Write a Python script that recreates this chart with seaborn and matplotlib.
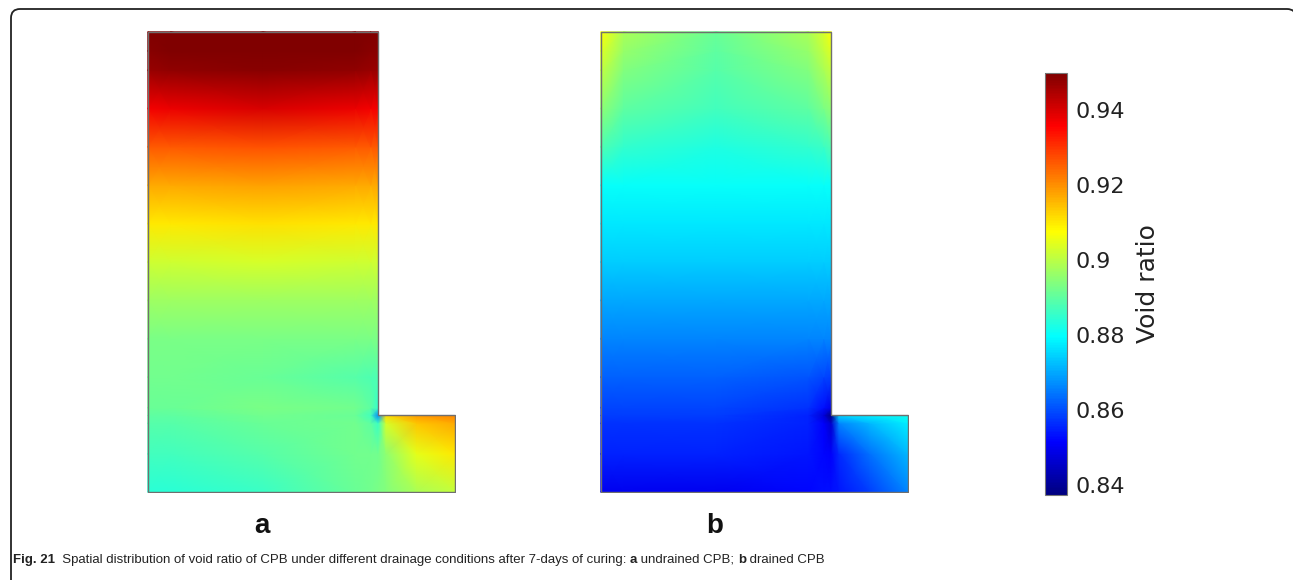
import numpy as np
import seaborn as sns
import matplotlib
matplotlib.use("Agg")
import matplotlib.pyplot as plt
from matplotlib import font_manager
from matplotlib.patches import Polygon, PathPatch
from matplotlib.path import Path
from matplotlib.cm import ScalarMappable
from matplotlib.colors import Normalize, LinearSegmentedColormap

# ---- data (void ratio at mesh nodes) ----
# column part of the L (x 0..6, y 0..12), foot part (x 6..8, y 0..2)
col_x = [0, 0.6, 3, 5.4, 5.8, 6]
col_y = [0, 1, 1.8, 2, 2.2, 3, 4, 5, 6, 7, 8, 9, 10, 11, 11.5, 12]
foot_x = [6, 6.2, 7, 8]
foot_y = [0, 1, 1.8, 2]

# (a) undrained CPB
col_a = [
    [0.884, 0.884, 0.886, 0.891, 0.892, 0.893],
    [0.887, 0.887, 0.889, 0.892, 0.892, 0.892],
    [0.889, 0.889, 0.891, 0.892, 0.890, 0.886],
    [0.890, 0.890, 0.892, 0.891, 0.887, 0.866],
    [0.891, 0.891, 0.893, 0.892, 0.890, 0.885],
    [0.892, 0.892, 0.891, 0.889, 0.888, 0.888],
    [0.893, 0.893, 0.893, 0.893, 0.893, 0.893],
    [0.897, 0.897, 0.897, 0.897, 0.897, 0.897],
    [0.902, 0.902, 0.903, 0.902, 0.902, 0.902],
    [0.910, 0.910, 0.911, 0.910, 0.910, 0.910],
    [0.917, 0.917, 0.918, 0.917, 0.917, 0.917],
    [0.926, 0.926, 0.927, 0.926, 0.926, 0.926],
    [0.937, 0.938, 0.940, 0.938, 0.937, 0.937],
    [0.947, 0.948, 0.949, 0.948, 0.947, 0.947],
    [0.949, 0.950, 0.950, 0.950, 0.949, 0.949],
    [0.950, 0.950, 0.950, 0.950, 0.950, 0.950],
]
foot_a = [
    [0.893, 0.894, 0.898, 0.901],
    [0.892, 0.895, 0.905, 0.910],
    [0.886, 0.903, 0.914, 0.917],
    [0.866, 0.912, 0.919, 0.921],
]

# (b) drained CPB
col_b = [
    [0.850, 0.850, 0.850, 0.852, 0.853, 0.853],
    [0.855, 0.855, 0.855, 0.854, 0.852, 0.851],
    [0.857, 0.857, 0.857, 0.855, 0.851, 0.846],
    [0.858, 0.858, 0.858, 0.855, 0.847, 0.836],
    [0.859, 0.859, 0.859, 0.857, 0.853, 0.849],
    [0.862, 0.862, 0.862, 0.861, 0.859, 0.858],
    [0.866, 0.866, 0.866, 0.866, 0.866, 0.866],
    [0.870, 0.870, 0.870, 0.870, 0.870, 0.870],
    [0.874, 0.874, 0.874, 0.874, 0.874, 0.874],
    [0.877, 0.877, 0.877, 0.877, 0.877, 0.877],
    [0.880, 0.880, 0.880, 0.880, 0.880, 0.880],
    [0.888, 0.885, 0.883, 0.885, 0.886, 0.888],
    [0.895, 0.890, 0.887, 0.890, 0.893, 0.895],
    [0.901, 0.894, 0.889, 0.894, 0.898, 0.901],
    [0.904, 0.896, 0.890, 0.896, 0.901, 0.904],
    [0.907, 0.898, 0.891, 0.898, 0.903, 0.907],
]
foot_b = [
    [0.853, 0.854, 0.858, 0.866],
    [0.851, 0.856, 0.864, 0.872],
    [0.846, 0.866, 0.872, 0.878],
    [0.836, 0.875, 0.878, 0.881],
]

panel_labels = ["a", "b"]
cbar_ticks = [0.84, 0.86, 0.88, 0.90, 0.92, 0.94]
cbar_ticklabels = ["0.84", "0.86", "0.88", "0.9", "0.92", "0.94"]
vmin, vmax = 0.8373, 0.9499

# rainbow scale as seen on the reference colour bar
cbar_stops = [0, 0.125, 0.375, 0.625, 0.875, 1]
cbar_colors = ["#000080", "#0000ff", "#00ffff", "#ffff00", "#ff0000", "#800000"]

sns.set_theme(style="white")
plt.rcParams["font.family"] = ["DejaVu Sans"]


def pick_font(names):
    for n in names:
        try:
            font_manager.findfont(n, fallback_to_default=False)
            return n
        except Exception:
            pass
    return "DejaVu Sans"


arial = pick_font(["Liberation Sans", "DejaVu Sans"])

W, H = 1293, 580
fig = plt.figure(figsize=(W / 100, H / 100), dpi=100)
cmap = LinearSegmentedColormap.from_list("rainbow_ref", list(zip(cbar_stops, cbar_colors)))
norm = Normalize(vmin=vmin, vmax=vmax)

outline = [(0, 0), (8, 0), (8, 2), (6, 2), (6, 12), (0, 12)]
panels = [(147, col_a, foot_a), (600, col_b, foot_b)]
for (left_px, col, foot), lab in zip(panels, panel_labels):
    ax = fig.add_axes([left_px / W, (H - 493) / H, 309 / W, 462 / H])
    ax.pcolormesh(col_x, col_y, np.array(col), cmap=cmap, norm=norm,
                  shading="gouraud", rasterized=True)
    ax.pcolormesh(foot_x, foot_y, np.array(foot), cmap=cmap, norm=norm,
                  shading="gouraud", rasterized=True)
    ax.add_patch(Polygon(outline, closed=True, fill=False,
                         edgecolor="#6f6f6f", linewidth=1.0))
    ax.set_xlim(-0.02, 8.02)
    ax.set_ylim(-0.02, 12.02)
    ax.axis("off")
    fig.text((left_px + 115) / W, 1 - 526 / H, lab, ha="center", va="center",
             fontsize=20, fontweight="bold", family=arial, color="#111111")

# colour bar
cax = fig.add_axes([1045 / W, (H - 495) / H, 22 / W, 422 / H])
cb = fig.colorbar(ScalarMappable(norm=norm, cmap=cmap), cax=cax, ticks=cbar_ticks)
cb.ax.set_yticklabels(cbar_ticklabels)
cb.ax.tick_params(direction="in", length=4, width=0.8, colors="#333333",
                  labelcolor="#222222", labelsize=16, left=True, right=True, pad=6)
cb.outline.set_edgecolor("#777777")
cb.outline.set_linewidth(0.8)
cb.set_label("Void ratio", fontsize=18, color="#222222", labelpad=8)

# rounded frame: left side and top, right corner just starting at the edge
x0, x1 = 11 / W, 1296 / W
ytop = 1 - 9 / H
rx, ry = 9 / W, 9 / H
frame = Path(
    [(x0, -0.05), (x0, ytop - ry), (x0, ytop), (x0 + rx, ytop),
     (x1 - rx, ytop), (x1, ytop), (x1, ytop - ry), (x1, -0.05)],
    [Path.MOVETO, Path.LINETO, Path.CURVE3, Path.CURVE3,
     Path.LINETO, Path.CURVE3, Path.CURVE3, Path.LINETO])
fig.patches.append(PathPatch(frame, transform=fig.transFigure, fill=False,
                             edgecolor="#222222", linewidth=1.3))

# caption, drawn piece by piece
pieces = [
    ("Fig. 21", "bold"),
    ("  Spatial distribution of void ratio of CPB under different drainage "
     "conditions after 7-days of curing: ", "normal"),
    ("a", "bold"),
    (" undrained CPB; ", "normal"),
    ("b", "bold"),
    (" drained CPB", "normal"),
]
renderer = fig.canvas.get_renderer()
x = 13
for txt, weight in pieces:
    t = fig.text(x / W, 1 - 560 / H, txt, ha="left", va="center", fontsize=9.5,
                 fontweight=weight, family=arial, color="#222222")
    bb = t.get_window_extent(renderer=renderer)
    x += bb.width

fig.savefig("out.png", dpi=100)
